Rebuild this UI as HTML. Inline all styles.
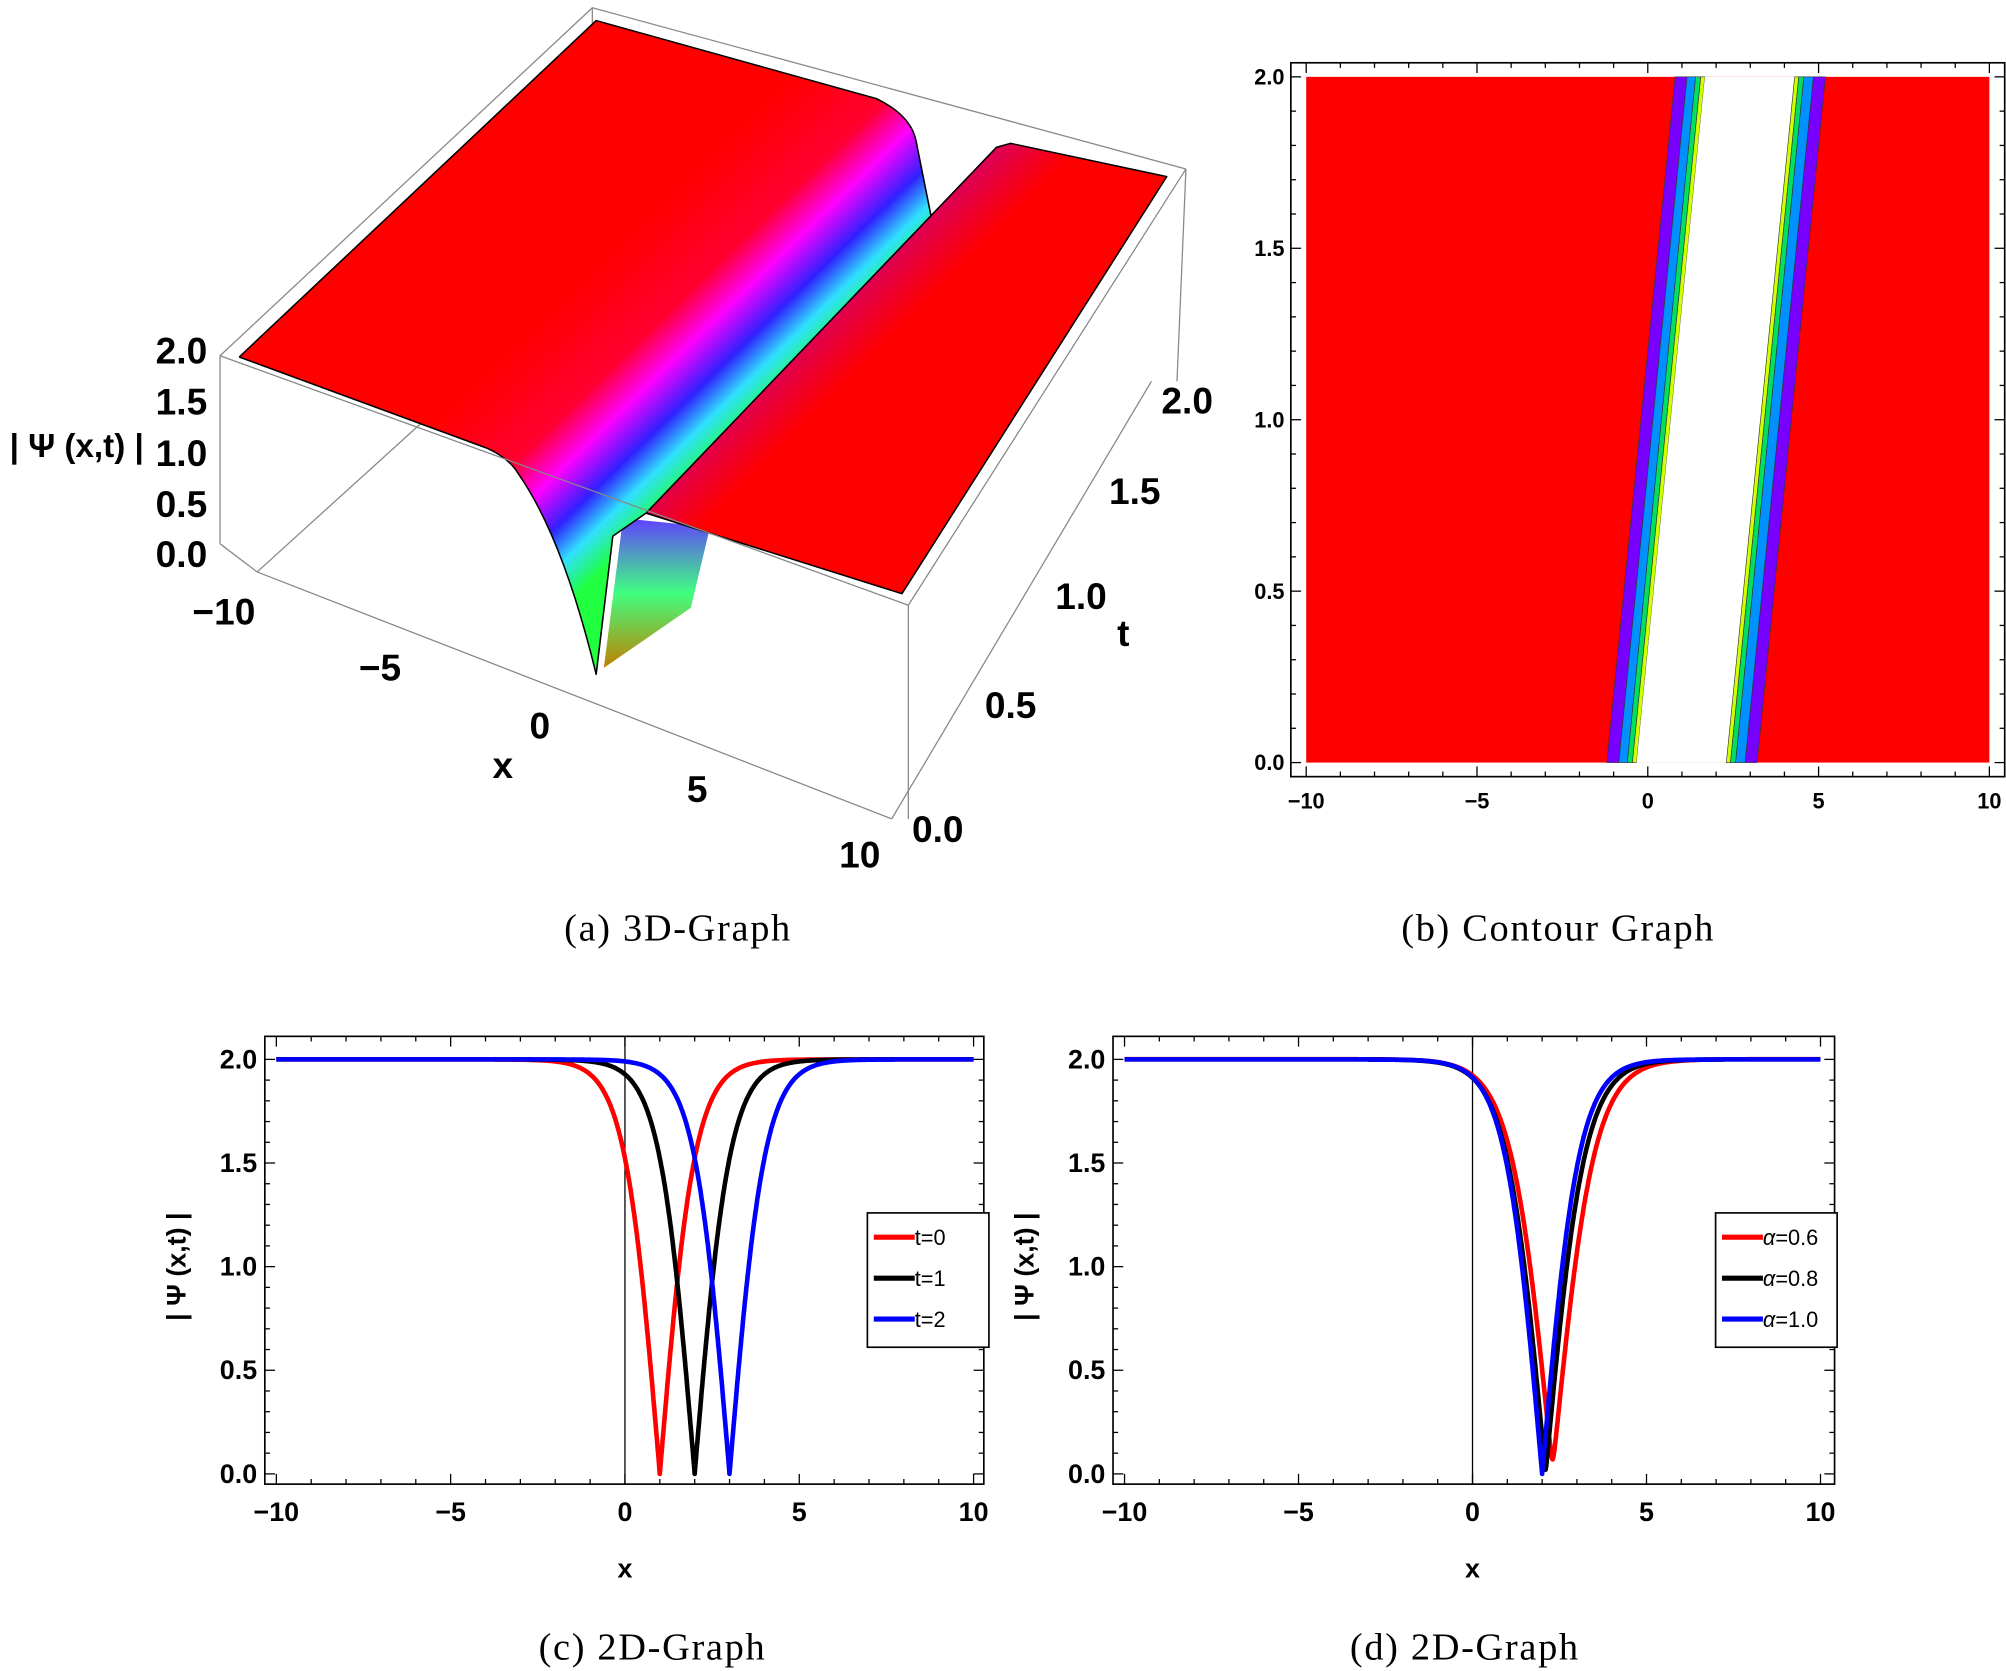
<!DOCTYPE html>
<html><head><meta charset="utf-8"><style>
html,body{margin:0;padding:0;background:#fff}
svg{display:block}
text{font-family:"Liberation Sans",sans-serif}
.cap{font-family:"Liberation Serif",serif;font-size:30px;letter-spacing:1.3px}
.b{font-weight:bold}
</style></head><body>
<svg id="s" width="2006" height="1671" viewBox="0 0 1568 1306" xmlns="http://www.w3.org/2000/svg">
<defs>
<linearGradient id="tg" gradientUnits="userSpaceOnUse" x1="498" y1="175" x2="620" y2="300">
<stop offset="0" stop-color="#ff0000"/>
<stop offset="0.38" stop-color="#ff0030"/>
<stop offset="0.55" stop-color="#ff00ff"/>
<stop offset="0.72" stop-color="#3020ff"/>
<stop offset="0.85" stop-color="#30e0ff"/>
<stop offset="1" stop-color="#20ff40"/>
</linearGradient>
<linearGradient id="tg2" x1="0" y1="0" x2="0" y2="1">
<stop offset="0" stop-color="#6040ff"/>
<stop offset="0.5" stop-color="#40ff80"/>
<stop offset="1" stop-color="#c08000"/>
</linearGradient>
<linearGradient id="rg" gradientUnits="userSpaceOnUse" x1="640" y1="260" x2="670" y2="290">
<stop offset="0" stop-color="#e00050"/>
<stop offset="1" stop-color="#ff0000"/>
</linearGradient>
</defs>
<g id="p3d" stroke-linejoin="round">
<g stroke="#888" stroke-width="1" fill="none">
<polyline points="172,278 463,6 927,132"/>
<line x1="463" y1="6" x2="463" y2="175"/>
<line x1="201" y1="447" x2="330" y2="330"/>
<line x1="330" y1="330" x2="620" y2="230"/>
<line x1="172" y1="278" x2="172" y2="425"/>
<line x1="172" y1="425" x2="201" y2="447"/>
<line x1="927" y1="132" x2="920" y2="298"/>
</g>
<polygon points="487,405 555,412 540,475 472,522" fill="url(#tg2)"/>
<path d="M187,279 L466,16 L685,77 Q712,90 716,110 L728,170 L505,401 L479,419 L466,527 Q440,420 405,370 Q398,358 380,350 Z" fill="url(#tg)" stroke="none"/>
<path d="M187,279 L466,16 L685,77 Q712,90 716,110 L728,170" fill="none" stroke="#000" stroke-width="1.2"/>
<path d="M187,279 L380,350 Q398,358 405,370 Q440,420 466,527 L479,419 L505,401" fill="none" stroke="#000" stroke-width="1.2"/>
<polygon points="779,115 790,112 912,138 705,464 505,401" fill="url(#rg)" stroke="#000" stroke-width="1.2"/>
<g stroke="#888" stroke-width="1" fill="none">
<line x1="172" y1="278" x2="710" y2="473"/>
<line x1="927" y1="132" x2="710" y2="473"/>
<line x1="710" y1="473" x2="710" y2="640"/>
<line x1="201" y1="447" x2="697" y2="640"/>
<line x1="697" y1="640" x2="900" y2="298"/>
</g>
<g class="b" font-size="29">
<text x="162" y="284" text-anchor="end">2.0</text>
<text x="162" y="324" text-anchor="end">1.5</text>
<text x="162" y="364" text-anchor="end">1.0</text>
<text x="162" y="404" text-anchor="end">0.5</text>
<text x="162" y="443" text-anchor="end">0.0</text>
<text x="175" y="488" text-anchor="middle">−10</text>
<text x="297" y="532" text-anchor="middle">−5</text>
<text x="422" y="577" text-anchor="middle">0</text>
<text x="545" y="627" text-anchor="middle">5</text>
<text x="672" y="678" text-anchor="middle">10</text>
<text x="393" y="608" text-anchor="middle">x</text>
<text x="733" y="658" text-anchor="middle">0.0</text>
<text x="790" y="561" text-anchor="middle">0.5</text>
<text x="845" y="476" text-anchor="middle">1.0</text>
<text x="887" y="394" text-anchor="middle">1.5</text>
<text x="928" y="323" text-anchor="middle">2.0</text>
<text x="878" y="505" text-anchor="middle">t</text>
<text x="60" y="357" text-anchor="middle" font-size="26">| Ψ (x,t) |</text>
</g>
</g>
<text class="cap" x="530" y="735" text-anchor="middle">(a)  3D-Graph</text>
<text class="cap" x="1218" y="735" text-anchor="middle">(b)  Contour Graph</text>
<text class="cap" x="510" y="1297" text-anchor="middle">(c)  2D-Graph</text>
<text class="cap" x="1145" y="1297" text-anchor="middle">(d)  2D-Graph</text>
</svg>
<script>
var NS="http://www.w3.org/2000/svg",S=document.getElementById("s");
function el(t,a,txt,par){var e=document.createElementNS(NS,t);for(var k in a)e.setAttribute(k,a[k]);if(txt!=null)e.textContent=txt;(par||S).appendChild(e);return e;}
(function(){
var X=function(u){return 1021+(u+10)*26.7},Y=function(t){return 596-t*268};
el("rect",{x:1009,y:49,width:558,height:558,fill:"#fff",stroke:"#000","stroke-width":1.3});
el("rect",{x:X(-10),y:Y(2),width:X(10)-X(-10),height:Y(0)-Y(2),fill:"#ff0000"});
function band(a,b,c){var p=[[X(a),Y(0)],[X(a+2),Y(2)],[X(b+2),Y(2)],[X(b),Y(0)]];el("polygon",{points:p.map(function(q){return q.join(",")}).join(" "),fill:c,stroke:"#333","stroke-width":0.5});}
band(-1.2,-0.85,"#7700ff");band(-0.85,-0.6,"#0090ff");band(-0.6,-0.45,"#00e060");band(-0.45,-0.33,"#d0ff00");
el("polygon",{points:[[X(-0.33),Y(0)],[X(1.67),Y(2)],[X(4.3),Y(2)],[X(2.3),Y(0)]].map(function(q){return q.join(",")}).join(" "),fill:"#fff"});
band(2.3,2.42,"#d0ff00");band(2.42,2.57,"#00e060");band(2.57,2.85,"#0090ff");band(2.85,3.2,"#7700ff");
for(var u=-10;u<=10;u++){var L=u%5==0?8:4;el("line",{x1:X(u),y1:607,x2:X(u),y2:607-L,stroke:"#000"});el("line",{x1:X(u),y1:49,x2:X(u),y2:49+L,stroke:"#000"});}
for(var i=0;i<=20;i++){var t=i/10,L=i%5==0?8:4;el("line",{x1:1009,y1:Y(t),x2:1009+L,y2:Y(t),stroke:"#000"});el("line",{x1:1567,y1:Y(t),x2:1567-L,y2:Y(t),stroke:"#000"});}
[-10,-5,0,5,10].forEach(function(u){el("text",{x:X(u),y:632,"text-anchor":"middle","font-size":17,"font-weight":"bold"},u<0?"−"+(-u):""+u)});
[0,0.5,1,1.5,2].forEach(function(t){el("text",{x:1004,y:Y(t)+6,"text-anchor":"end","font-size":17,"font-weight":"bold"},t.toFixed(1))});
})();
function panel(L,R,x0,x1,curves,leg,legx,ital){
var Y=function(v){return 1152-v*162},X=function(u){return x0+(u+10)*(x1-x0)/20};
el("rect",{x:L,y:810,width:R-L,height:350,fill:"#fff",stroke:"#000","stroke-width":1.3});
for(var u=-10;u<=10;u++){var l=u%5==0?8:4;el("line",{x1:X(u),y1:1160,x2:X(u),y2:1160-l,stroke:"#000"});el("line",{x1:X(u),y1:810,x2:X(u),y2:810+l,stroke:"#000"});}
for(var i=0;i<=20;i++){var v=i/10,l=i%5==0?8:4;el("line",{x1:L,y1:Y(v),x2:L+l,y2:Y(v),stroke:"#000"});el("line",{x1:R,y1:Y(v),x2:R-l,y2:Y(v),stroke:"#000"});}
el("line",{x1:X(0),y1:810,x2:X(0),y2:1160,stroke:"#000","stroke-width":1});
curves.forEach(function(c){var p=[];for(var u=-10;u<=10.0001;u+=0.02){var f=2*Math.abs(Math.tanh(c[1]*(u-c[0])));f=Math.sqrt(f*f+c[3]*c[3]);p.push(X(u).toFixed(1)+","+Y(f).toFixed(1));}
el("polyline",{points:p.join(" "),fill:"none",stroke:c[2],"stroke-width":3.6,"stroke-linejoin":"round"});});
[-10,-5,0,5,10].forEach(function(u){el("text",{x:X(u),y:1189,"text-anchor":"middle","font-size":21,"font-weight":"bold"},u<0?"−"+(-u):""+u)});
[0,0.5,1,1.5,2].forEach(function(v){el("text",{x:L-6,y:Y(v)+7,"text-anchor":"end","font-size":21,"font-weight":"bold"},v.toFixed(1))});
el("text",{x:X(0),y:1233,"text-anchor":"middle","font-size":21,"font-weight":"bold"},"x");
var yl=L-62;el("text",{x:yl,y:990,"text-anchor":"middle","font-size":21,"font-weight":"bold",transform:"rotate(-90 "+yl+" 990)"},"| Ψ (x,t) |");
el("rect",{x:legx,y:948,width:95,height:105,fill:"#fff",stroke:"#000","stroke-width":1.3});
leg.forEach(function(g,i){var y=967+i*32;el("line",{x1:legx+5,y1:y,x2:legx+37,y2:y,stroke:g[1],"stroke-width":4});
var t=el("text",{x:legx+37,y:y+6,"font-size":17});
if(ital){el("tspan",{"font-style":"italic"},"α",t);el("tspan",{},g[0],t);}else t.textContent=g[0];});
}
panel(207,769,216,761,[[1,1,"#ff0000",0],[2,1,"#000",0],[3,1,"#0000ff",0]],[["t=0","#ff0000"],["t=1","#000"],["t=2","#0000ff"]],678,false);
panel(870,1434,879,1423,[[2.3,0.85,"#ff0000",0.07],[2.1,0.9,"#000",0.02],[2.0,0.95,"#0000ff",0]],[["=0.6","#ff0000"],["=0.8","#000"],["=1.0","#0000ff"]],1341,true);
</script>
</body></html>
